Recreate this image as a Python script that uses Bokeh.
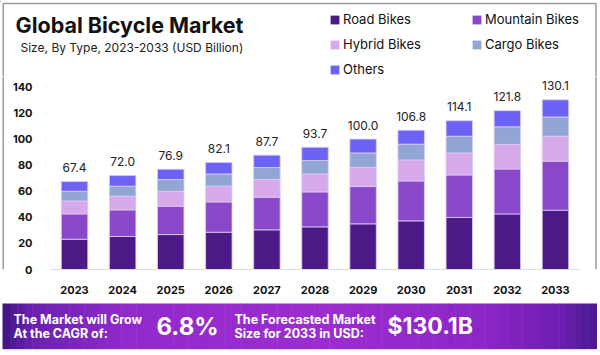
from bokeh.plotting import figure
from bokeh.models import ColumnDataSource, Legend, LegendItem, Range1d
from bokeh.layouts import column, row
from bokeh.core.properties import value
from bokeh.embed import file_html
from bokeh.resources import INLINE

years = ["2023", "2024", "2025", "2026", "2027", "2028", "2029", "2030", "2031", "2032", "2033"]
road = [23.2, 25.3, 26.8, 28.6, 30.4, 32.7, 35.0, 37.3, 39.9, 42.6, 45.5]
mountain = [19.4, 20.4, 21.7, 23.2, 25.0, 26.8, 28.6, 30.6, 32.6, 34.5, 37.6]
hybrid = [10.0, 10.5, 11.5, 12.1, 13.6, 13.8, 14.6, 16.1, 16.9, 18.8, 19.1]
cargo = [7.4, 7.7, 9.0, 9.4, 9.2, 10.3, 11.2, 12.1, 12.8, 13.5, 14.8]
others = [7.4, 8.1, 7.9, 8.8, 9.5, 10.1, 10.6, 10.7, 11.9, 12.4, 13.1]
totals = [67.4, 72.0, 76.9, 82.1, 87.7, 93.7, 100.0, 106.8, 114.1, 121.8, 130.1]
total_labels = ["67.4", "72.0", "76.9", "82.1", "87.7", "93.7", "100.0", "106.8", "114.1", "121.8", "130.1"]
segments = ["road", "mountain", "hybrid", "cargo", "others"]
segment_names = ["Road Bikes", "Mountain Bikes", "Hybrid Bikes", "Cargo Bikes", "Others"]
colors = ["#4c1a87", "#8948c9", "#d8a9ea", "#92a6d6", "#6c62f3"]
y_ticks = [0, 20, 40, 60, 80, 100, 120, 140]
title_text = "Global Bicycle Market"
subtitle_text = "Size, By Type, 2023-2033 (USD Billion)"
cagr_text = "6.8%"
forecast_text = "$130.1B"

FONT = "Inter"
BORDER = "#9a9a9a"


def blank_fig(w, h, x0, x1, y0, y1):
    f = figure(width=w, height=h, x_range=Range1d(x0, x1), y_range=Range1d(y0, y1),
               output_backend="svg", toolbar_location=None, title=None,
               min_border_left=0, min_border_right=0, min_border_top=0, min_border_bottom=0)
    f.axis.visible = False
    f.grid.visible = False
    f.outline_line_color = None
    f.background_fill_color = "white"
    f.border_fill_color = "white"
    return f


# ---------- header (canvas y 0..76) ----------
h = blank_fig(600, 76, 0, 600, 76, 0)
h.line(x=[2.7, 2.7, 595.5, 595.5], y=[76, 3, 3, 76], line_color=BORDER, line_width=1.5)
h.text(x=[15], y=[24.5], text=[title_text], text_font=value(FONT), text_font_size="21.5px",
       text_font_style="bold", text_color="#111111", text_baseline="middle", text_align="left")
h.text(x=[20], y=[46.7], text=[subtitle_text], text_font=value(FONT), text_font_size="12px",
       text_color="#222222", text_baseline="middle", text_align="left")
# off-screen proxy bars, only used to supply the legend swatches
proxies = [h.vbar(x=[-100], top=[1], width=1, fill_color=c, line_color=None) for c in colors]
order = [0, 2, 4, 1, 3]
legend = Legend(items=[LegendItem(label=segment_names[i], renderers=[proxies[i]]) for i in order],
                ncols=2, location=(329, -3), glyph_width=11, glyph_height=11,
                label_standoff=3, label_width=123, label_height=20, spacing=5, padding=0, margin=0,
                border_line_color=None, background_fill_alpha=0,
                label_text_font=FONT, label_text_font_size="13px", label_text_color="#111111")
h.add_layout(legend)

# ---------- chart (canvas y 76..302) ----------
source = ColumnDataSource(data=dict(years=years, road=road, mountain=mountain, hybrid=hybrid,
                                    cargo=cargo, others=others, totals=totals, total_labels=total_labels))

p = figure(x_range=years, y_range=(0, 148.0), width=590, height=226,
           output_backend="svg", toolbar_location=None, title=None,
           min_border_left=46, min_border_right=15, min_border_top=0, min_border_bottom=33)
p.outline_line_color = None
p.background_fill_color = "white"
p.border_fill_color = "white"
p.xgrid.grid_line_color = None
p.ygrid.grid_line_color = None

p.vbar_stack(segments, x="years", width=0.55, source=source, color=colors,
             line_color="#ddcdf3", line_width=0.8)

p.text(x="years", y="totals", text="total_labels", source=source, text_align="center",
       text_baseline="middle", y_offset=-14, text_font=value(FONT), text_font_size="12px",
       text_color="#222222")

p.yaxis.ticker = y_ticks
p.yaxis.axis_line_color = None
p.yaxis.major_tick_line_color = None
p.yaxis.minor_tick_line_color = None
p.yaxis.major_label_standoff = 12
p.yaxis.major_label_text_font = FONT
p.yaxis.major_label_text_font_style = "bold"
p.yaxis.major_label_text_font_size = "11px"
p.yaxis.major_label_text_color = "#111111"

p.xaxis.axis_line_color = "#dddddd"
p.xaxis.major_tick_line_color = None
p.xaxis.minor_tick_line_color = None
p.xaxis.major_label_standoff = 10
p.xaxis.major_label_text_font = FONT
p.xaxis.major_label_text_font_style = "bold"
p.xaxis.major_label_text_font_size = "11px"
p.xaxis.major_label_text_color = "#111111"

left_edge = blank_fig(4, 226, 0, 4, 0, 1)
left_edge.line(x=[2.7, 2.7], y=[0, 1], line_color=BORDER, line_width=1.5)
right_edge = blank_fig(6, 226, 594, 600, 0, 1)
right_edge.line(x=[595.5, 595.5], y=[0, 1], line_color=BORDER, line_width=1.5)

# ---------- banner (canvas y 302..355) ----------
b = blank_fig(600, 53, 0, 600, 355, 302)
stops = [(2, (0x40, 0x15, 0x80)), (30, (0x6a, 0x20, 0xb0)), (130, (0x92, 0x2a, 0xcb)),
         (330, (0x9c, 0x2c, 0xd0)), (480, (0x8c, 0x26, 0xc6)), (560, (0x6c, 0x1f, 0xb0)),
         (596, (0x48, 0x18, 0x90))]


def color_at(cx):
    for (x0, c0), (x1, c1) in zip(stops[:-1], stops[1:]):
        if x0 <= cx <= x1:
            t = (cx - x0) / (x1 - x0)
            return "#%02x%02x%02x" % tuple(int(round(a + (bb - a) * t)) for a, bb in zip(c0, c1))
    return "#%02x%02x%02x" % stops[-1][1]


n_strips = 80
x_left, x_right = 2, 596
w = (x_right - x_left) / n_strips
lefts = [x_left + i * w for i in range(n_strips)]
b.quad(left=lefts, right=[l + w + 0.5 for l in lefts], top=303, bottom=348.5,
       fill_color=[color_at(l + w / 2) for l in lefts], line_color=None)
b.line(x=[2, 596], y=[349.3, 349.3], line_color="#cfcfcf", line_width=1)


def btext(txt, x, y, size):
    b.text(x=[x], y=[y], text=[txt], text_font=value(FONT), text_font_size=size,
           text_font_style="bold", text_color="white", text_baseline="middle", text_align="left")


btext("The Market will Grow", 13, 319.3, "12.5px")
btext("At the CAGR of:", 13, 333.3, "12.5px")
btext(cagr_text, 156, 325.5, "24px")
btext("The Forecasted Market", 234, 319.3, "12.5px")
btext("Size for 2033 in USD:", 234, 333.3, "12.5px")
btext(forecast_text, 387, 325.5, "23px")

layout = column(h, row(left_edge, p, right_edge), b)
open("out.html", "w").write(file_html(layout, INLINE))
